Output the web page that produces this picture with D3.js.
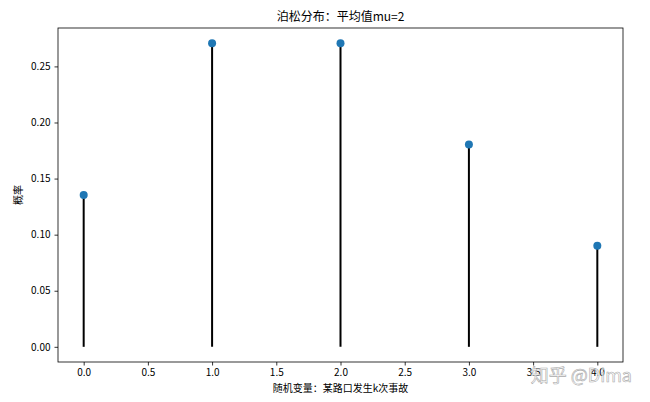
<!DOCTYPE html>
<html><head><meta charset="utf-8">
<script src="https://cdn.jsdelivr.net/npm/d3@7"></script>
<style>body{margin:0;background:#fff}svg{display:block}text{font-family:"Noto Sans CJK SC","DejaVu Sans",sans-serif}</style>
</head><body>
<svg id="c" width="650" height="402"></svg>
<script>
const ks = [0, 1, 2, 3, 4];
const probs = [0.1353, 0.2707, 0.2707, 0.1804, 0.0902];
const xTicks = [0, 0.5, 1, 1.5, 2, 2.5, 3, 3.5, 4];
const yTicks = [0, 0.05, 0.10, 0.15, 0.20, 0.25];
const title = "泊松分布：平均值mu=2";
const xLabel = "随机变量：某路口发生k次事故";
const yLabel = "概率";

const svg = d3.select("#c");
const m = {l:58, t:28, r:623, b:362};
const x = d3.scaleLinear().domain([-0.2, 4.2]).range([m.l, m.r]);
const y = d3.scaleLinear().domain([-0.01353, 0.28424]).range([m.b, m.t]);

const gx = svg.append("g").attr("transform", `translate(0,${m.b})`)
  .call(d3.axisBottom(x).tickValues(xTicks).tickFormat(d3.format(".1f")).tickSizeOuter(0).tickSize(3.5).tickPadding(3));
const gy = svg.append("g").attr("transform", `translate(${m.l},0)`)
  .call(d3.axisLeft(y).tickValues(yTicks).tickFormat(d3.format(".2f")).tickSizeOuter(0).tickSize(3.5).tickPadding(4));
[gx, gy].forEach(g => {
  g.select(".domain").remove();
  g.selectAll("line").attr("stroke", "#000").attr("stroke-width", 0.8);
  g.selectAll("text").attr("fill", "#000").style("font-size", "10px");
});

svg.append("rect").attr("x", m.l).attr("y", m.t).attr("width", m.r - m.l).attr("height", m.b - m.t)
  .attr("fill", "none").attr("stroke", "#000").attr("stroke-width", 0.8);

svg.append("g").selectAll("line").data(ks).join("line")
  .attr("x1", d => x(d)).attr("x2", d => x(d))
  .attr("y1", y(0)).attr("y2", (d, i) => y(probs[i]))
  .attr("stroke", "#000").attr("stroke-width", 2);

svg.append("g").selectAll("circle").data(ks).join("circle")
  .attr("cx", d => x(d)).attr("cy", (d, i) => y(probs[i])).attr("r", 4)
  .attr("fill", "#1f77b4");

svg.append("text").attr("x", (m.l + m.r) / 2).attr("y", 21).attr("text-anchor", "middle")
  .style("font-size", "12px").attr("fill", "#000").text(title);
svg.append("text").attr("x", (m.l + m.r) / 2).attr("y", 392).attr("text-anchor", "middle")
  .style("font-size", "10px").attr("fill", "#000").text(xLabel);
svg.append("text").attr("transform", `translate(22,${(m.t + m.b) / 2}) rotate(-90)`).attr("text-anchor", "middle")
  .style("font-size", "10px").attr("fill", "#000").text(yLabel);

svg.append("text").attr("x", 632).attr("y", 382).attr("text-anchor", "end")
  .style("font-size", "18px").attr("fill", "#fff").attr("fill-opacity", 0.75)
  .attr("stroke", "#aaa").attr("stroke-width", 0.6).text("知乎 @Dima");
</script>
</body></html>
